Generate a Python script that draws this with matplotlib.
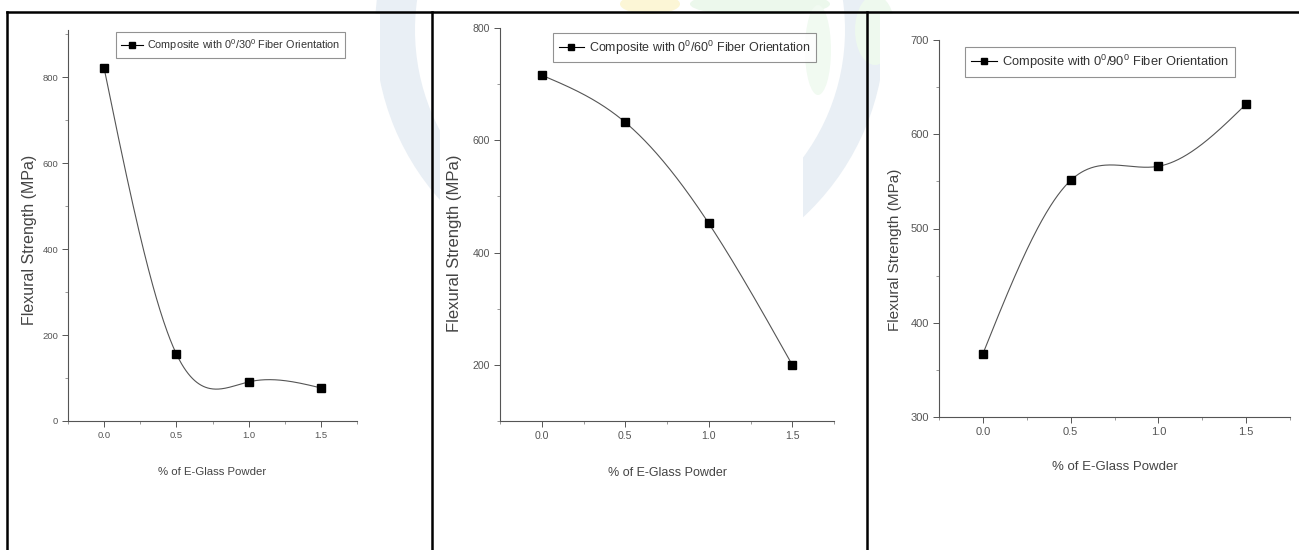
import numpy as np
import matplotlib
matplotlib.use('Agg')
import matplotlib.pyplot as plt
from matplotlib.patches import Wedge, Rectangle, Ellipse
from matplotlib.ticker import MultipleLocator

plt.rcParams['font.family'] = ['Liberation Sans', 'DejaVu Sans']
plt.rcParams['mathtext.default'] = 'regular'

# data
glass = [0.0, 0.5, 1.0, 1.5]
strength_30 = [821, 156, 91, 77]
strength_60 = [716, 632, 452, 200]
strength_90 = [367, 551, 566, 632]
labels = ['Composite with 0$^0$/30$^0$ Fiber Orientation',
          'Composite with 0$^0$/60$^0$ Fiber Orientation',
          'Composite with 0$^0$/90$^0$ Fiber Orientation']


def natural_spline(x, y, n=300):
    # plain natural cubic spline, like Origin's smooth connect
    x = np.asarray(x, float)
    y = np.asarray(y, float)
    k = len(x)
    h = np.diff(x)
    A = np.zeros((k, k))
    b = np.zeros(k)
    A[0, 0] = A[-1, -1] = 1
    for i in range(1, k - 1):
        A[i, i - 1] = h[i - 1]
        A[i, i] = 2 * (h[i - 1] + h[i])
        A[i, i + 1] = h[i]
        b[i] = 6 * ((y[i + 1] - y[i]) / h[i] - (y[i] - y[i - 1]) / h[i - 1])
    M = np.linalg.solve(A, b)
    xs = np.linspace(x[0], x[-1], n)
    ys = np.empty_like(xs)
    for j, t in enumerate(xs):
        i = min(np.searchsorted(x, t, side='right') - 1, k - 2)
        a, c = x[i + 1] - t, t - x[i]
        ys[j] = (M[i] * a**3 + M[i + 1] * c**3) / (6 * h[i]) \
            + (y[i] / h[i] - M[i] * h[i] / 6) * a \
            + (y[i + 1] / h[i] - M[i + 1] * h[i] / 6) * c
    return xs, ys


W, H = 1299, 550
fig = plt.figure(figsize=(W / 100, H / 100), dpi=100)

# background: faint watermark, white picture areas and the table lines
bg = fig.add_axes([0, 0, 1, 1])
bg.set_xlim(0, W)
bg.set_ylim(H, 0)
bg.axis('off')
bg.add_patch(Wedge((630, 30), 255, 0, 360, width=40, color='#e9eff5', lw=0))
bg.add_patch(Ellipse((650, 4), 60, 20, color='#fcf6d6', lw=0))
bg.add_patch(Ellipse((760, 4), 140, 24, color='#ecf8ec', lw=0))
bg.add_patch(Ellipse((818, 50), 26, 90, color='#f1faf1', lw=0))
bg.add_patch(Ellipse((875, 30), 40, 70, color='#eef9ee', lw=0))
for x0, x1 in [(10, 380), (440, 803), (880, 1299)]:
    bg.add_patch(Rectangle((x0, 14), x1 - x0, H - 14, color='white', lw=0))
bg.plot([7, W], [12, 12], color='black', lw=1.8)
for xv in [7, 432, 867]:
    bg.plot([xv, xv], [12, H], color='black', lw=1.8)


def px_box(left, right, top, bottom):
    return [left / W, 1 - bottom / H, (right - left) / W, (bottom - top) / H]


panels = [
    dict(box=(68, 357, 30, 421), y=strength_30, ylim=(0, 910), major=200, minor=100,
         leg=(116, 32), ylab=(-0.107, 0.463), ysize=11.5, xsize=8.2, lsize=7.8, tsize=6.8),
    dict(box=(500, 834, 28, 421), y=strength_60, ylim=(100, 800), major=200, minor=100,
         leg=(553, 33), ylab=(-0.114, 0.453), ysize=12, xsize=9, lsize=9, tsize=7.6),
    dict(box=(939, 1290, 40, 417), y=strength_90, ylim=(300, 700), major=100, minor=50,
         leg=(965, 47), ylab=(-0.105, 0.443), ysize=11, xsize=9.5, lsize=9.3, tsize=8),
]

for p, lab in zip(panels, labels):
    ax = fig.add_axes(px_box(*p['box']))
    ax.patch.set_alpha(0)
    xs, ys = natural_spline(glass, p['y'])
    ax.plot(xs, ys, color='#555555', lw=0.8)
    ax.plot(glass, p['y'], 's', color='black', ms=5.5, zorder=3)
    ax.plot([], [], '-s', color='black', ms=4, lw=0.8, label=lab)
    ax.set_xlim(-0.25, 1.75)
    ax.set_ylim(*p['ylim'])
    ax.xaxis.set_major_locator(MultipleLocator(0.5))
    ax.xaxis.set_minor_locator(MultipleLocator(0.25))
    ax.yaxis.set_major_locator(MultipleLocator(p['major']))
    ax.yaxis.set_minor_locator(MultipleLocator(p['minor']))
    ax.xaxis.set_major_formatter(plt.FormatStrFormatter('%.1f'))
    ax.spines['top'].set_visible(False)
    ax.spines['right'].set_visible(False)
    for s in ['left', 'bottom']:
        ax.spines[s].set_color('#555555')
        ax.spines[s].set_linewidth(0.8)
    ax.tick_params(which='major', direction='out', length=4, width=0.7,
                   color='#555555', labelsize=p['tsize'], labelcolor='#555555', pad=3)
    ax.tick_params(which='minor', direction='out', length=2, width=0.6, color='#888888')
    ax.set_xlabel('% of E-Glass Powder', fontsize=p['xsize'], color='#444444')
    ax.xaxis.set_label_coords(0.5, -0.118)
    ax.set_ylabel('Flexural Strength (MPa)', fontsize=p['ysize'], color='#444444')
    ax.yaxis.set_label_coords(*p['ylab'])
    ax.legend(loc='upper left', bbox_to_anchor=(p['leg'][0] / W, 1 - p['leg'][1] / H),
              bbox_transform=fig.transFigure, fontsize=p['lsize'], frameon=True,
              fancybox=False, edgecolor='#777777', handlelength=2.0, handletextpad=0.4,
              borderpad=0.45, borderaxespad=0,
              labelcolor='#333333').get_frame().set_linewidth(0.8)

fig.savefig('out.png', dpi=100)
